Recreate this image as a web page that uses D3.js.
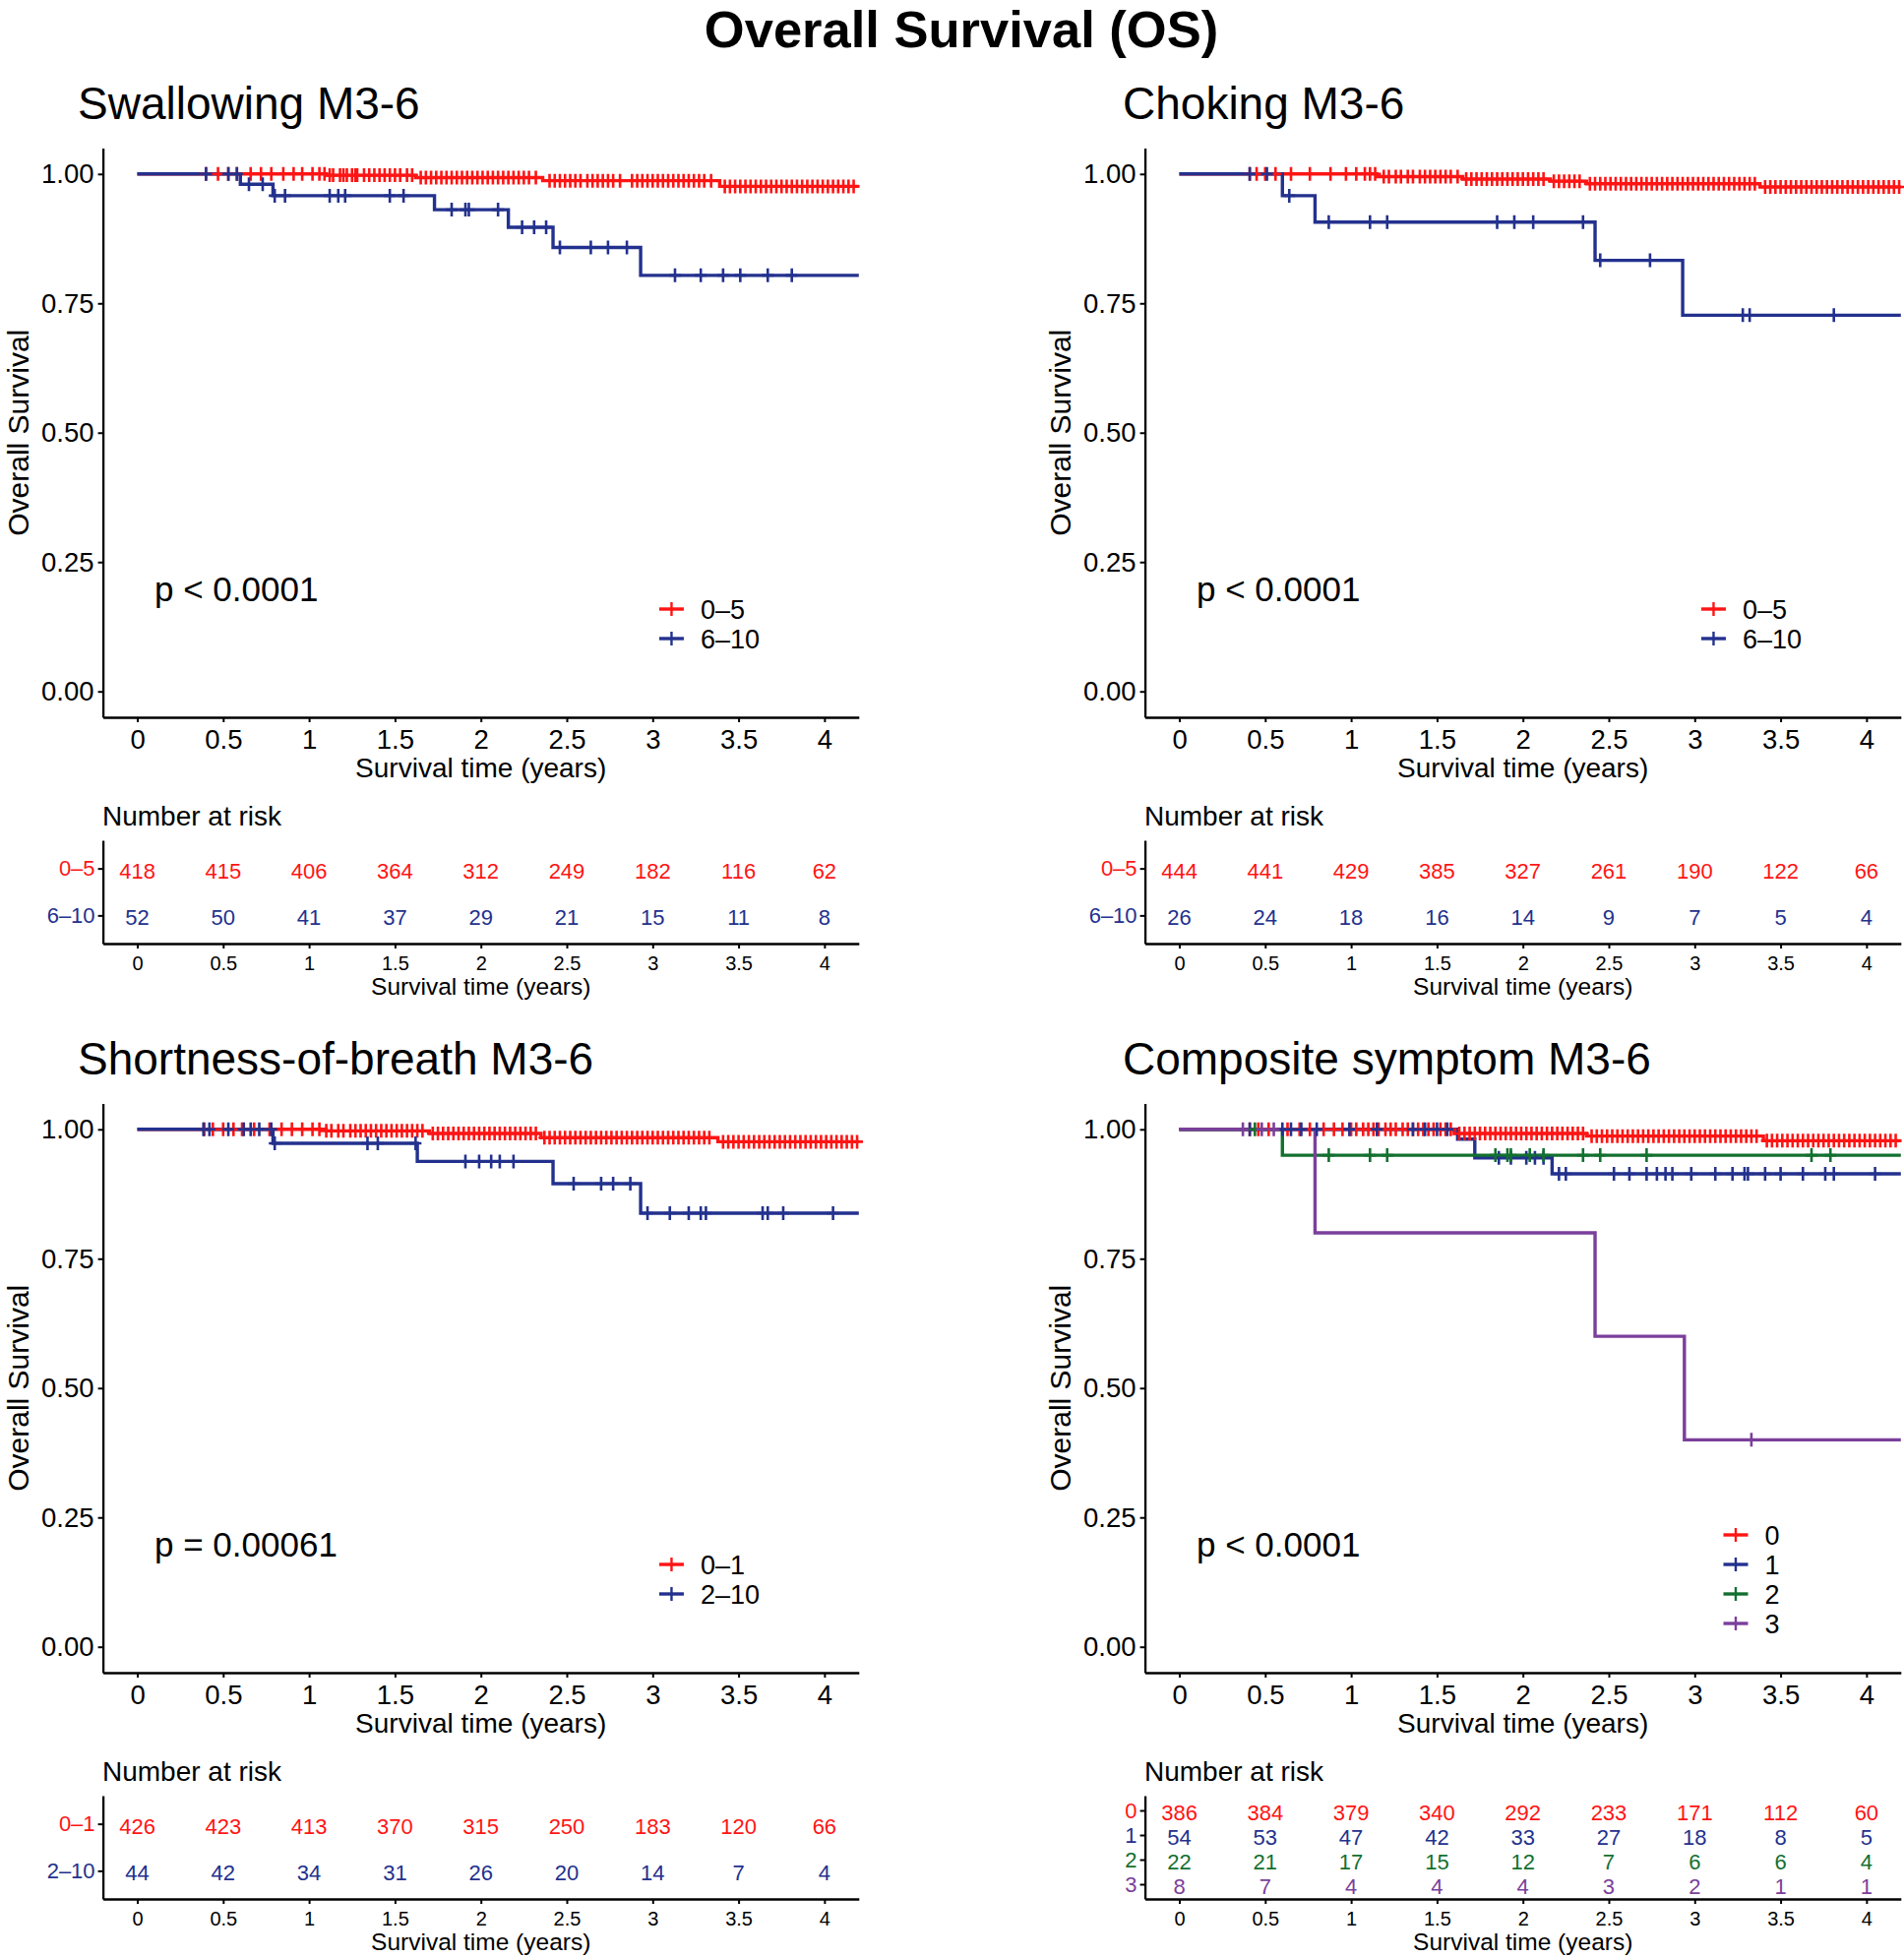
<!DOCTYPE html>
<html><head><meta charset="utf-8">
<script src="https://cdn.jsdelivr.net/npm/d3@7"></script>
<style>
body{margin:0;background:#fff;}
svg{display:block;font-family:"Liberation Sans",Arial,Helvetica,sans-serif;}
</style></head><body>
<svg id="chart" width="1935" height="1990"></svg>
<script>
// ---------- data ----------
const timeTicks = [0, 0.5, 1, 1.5, 2, 2.5, 3, 3.5, 4];
const survTicks = [0, 0.25, 0.5, 0.75, 1];
const panelTitles = ["Swallowing M3-6", "Choking M3-6", "Shortness-of-breath M3-6", "Composite symptom M3-6"];
const pValues = ["p < 0.0001", "p < 0.0001", "p = 0.00061", "p < 0.0001"];

// Swallowing
const swallowRedSteps = [[0,1],[1.10,0.9975],[1.62,0.993],[2.36,0.987],[3.39,0.976]];
const swallowRedCensor = [0.40,0.47,0.53,0.58,0.66,0.72,0.78,0.85,0.91,0.96,1.02,1.06,1.09,1.12,1.14,1.18,1.20,1.22,1.25,1.27,1.28,1.32,1.35,1.38,1.41,1.44,1.47,1.50,1.53,1.57,1.60,1.65,1.68,1.71,1.74,1.77,1.80,1.83,1.86,1.89,1.92,1.95,1.98,2.01,2.04,2.07,2.10,2.13,2.16,2.19,2.22,2.25,2.28,2.32,2.40,2.43,2.46,2.49,2.52,2.55,2.58,2.62,2.65,2.68,2.71,2.74,2.77,2.81,2.88,2.91,2.94,2.97,3.00,3.03,3.06,3.09,3.12,3.15,3.18,3.21,3.24,3.27,3.30,3.34,3.42,3.45,3.48,3.51,3.54,3.57,3.60,3.63,3.66,3.69,3.72,3.75,3.78,3.81,3.84,3.87,3.90,3.93,3.96,3.99,4.02,4.05,4.08,4.11,4.14,4.17];
const swallowBlueSteps = [[0,1],[0.60,0.980],[0.79,0.958],[1.73,0.931],[2.16,0.897],[2.42,0.858],[2.93,0.804]];
const swallowBlueCensor = [0.40,0.53,0.58,0.65,0.73,0.80,0.86,1.12,1.17,1.21,1.47,1.55,1.83,1.91,1.93,2.10,2.24,2.31,2.38,2.46,2.64,2.74,2.85,3.13,3.28,3.41,3.51,3.67,3.81];
const swallowRisk0 = [418,415,406,364,312,249,182,116,62];
const swallowRisk1 = [52,50,41,37,29,21,15,11,8];

// Choking
const chokeRedSteps = [[0,1],[1.15,0.995],[1.65,0.990],[2.16,0.986],[2.37,0.981],[3.38,0.975]];
const chokeRedCensor = [0.41,0.45,0.50,0.56,0.65,0.76,0.88,0.97,1.03,1.08,1.11,1.14,1.19,1.22,1.26,1.29,1.33,1.36,1.40,1.43,1.46,1.49,1.52,1.55,1.58,1.62,1.67,1.70,1.73,1.76,1.79,1.82,1.85,1.88,1.91,1.94,1.97,2.00,2.03,2.06,2.09,2.12,2.18,2.21,2.24,2.27,2.30,2.33,2.39,2.42,2.45,2.48,2.51,2.54,2.57,2.60,2.63,2.66,2.69,2.72,2.75,2.78,2.81,2.84,2.87,2.90,2.93,2.96,2.99,3.02,3.05,3.08,3.11,3.14,3.17,3.20,3.23,3.26,3.29,3.32,3.35,3.41,3.44,3.47,3.50,3.53,3.56,3.59,3.62,3.65,3.68,3.71,3.74,3.77,3.80,3.83,3.86,3.89,3.92,3.95,3.98,4.01,4.04,4.07,4.10,4.13,4.16,4.19];
const chokeBlueSteps = [[0,1],[0.60,0.958],[0.79,0.907],[2.42,0.833],[2.93,0.727]];
const chokeBlueCensor = [0.41,0.51,0.64,0.87,1.11,1.21,1.85,1.95,2.06,2.35,2.45,2.74,3.28,3.32,3.81];
const chokeRisk0 = [444,441,429,385,327,261,190,122,66];
const chokeRisk1 = [26,24,18,16,14,9,7,5,4];

// Shortness of breath
const breathRedSteps = [[0,1],[1.10,0.997],[1.70,0.992],[2.35,0.984],[3.38,0.976]];
const breathRedCensor = [0.39,0.44,0.50,0.56,0.61,0.68,0.77,0.84,0.90,0.96,1.02,1.06,1.10,1.13,1.17,1.20,1.24,1.27,1.30,1.33,1.36,1.39,1.42,1.45,1.48,1.51,1.54,1.57,1.60,1.63,1.66,1.72,1.75,1.78,1.81,1.84,1.87,1.90,1.93,1.96,1.99,2.02,2.05,2.08,2.11,2.14,2.17,2.20,2.23,2.26,2.29,2.32,2.37,2.40,2.43,2.46,2.49,2.52,2.55,2.58,2.61,2.64,2.67,2.70,2.73,2.76,2.79,2.82,2.85,2.88,2.91,2.94,2.97,3.00,3.03,3.06,3.09,3.12,3.15,3.18,3.21,3.24,3.27,3.30,3.33,3.41,3.44,3.47,3.50,3.53,3.56,3.59,3.62,3.65,3.68,3.71,3.74,3.77,3.80,3.83,3.86,3.89,3.92,3.95,3.98,4.01,4.04,4.07,4.10,4.13,4.16,4.19];
const breathBlueSteps = [[0,1],[0.79,0.973],[1.63,0.938],[2.42,0.895],[2.93,0.838]];
const breathBlueCensor = [0.385,0.42,0.53,0.62,0.66,0.71,0.78,0.80,1.34,1.40,1.62,1.91,1.99,2.06,2.11,2.19,2.54,2.70,2.77,2.87,2.97,3.10,3.21,3.28,3.31,3.64,3.67,3.76,4.05];
const breathRisk0 = [426,423,413,370,315,250,183,120,66];
const breathRisk1 = [44,42,34,31,26,20,14,7,4];

// Composite symptom
const compRedSteps = [[0,1],[1.60,0.992],[2.37,0.987],[3.40,0.978]];
const compRedCensor = [0.41,0.46,0.52,0.63,0.70,0.76,0.84,0.90,0.95,1.00,1.03,1.07,1.10,1.13,1.16,1.20,1.23,1.26,1.30,1.33,1.36,1.39,1.42,1.45,1.48,1.52,1.55,1.58,1.63,1.66,1.69,1.72,1.75,1.78,1.81,1.84,1.87,1.90,1.93,1.96,1.99,2.02,2.05,2.08,2.11,2.14,2.17,2.20,2.23,2.26,2.29,2.32,2.35,2.40,2.43,2.46,2.49,2.52,2.55,2.58,2.61,2.64,2.67,2.70,2.73,2.76,2.79,2.82,2.85,2.88,2.91,2.94,2.97,3.00,3.03,3.06,3.09,3.12,3.15,3.18,3.21,3.24,3.27,3.30,3.33,3.36,3.42,3.45,3.48,3.51,3.54,3.57,3.60,3.63,3.66,3.69,3.72,3.75,3.78,3.81,3.84,3.87,3.90,3.93,3.96,3.99,4.02,4.05,4.08,4.11,4.14,4.17];
const compBlueSteps = [[0,1],[1.62,0.981],[1.72,0.945],[2.17,0.914]];
const compBlueCensor = [0.41,0.60,0.65,0.71,0.80,0.99,1.15,1.36,1.43,1.50,1.56,1.86,1.93,2.02,2.07,2.12,2.21,2.25,2.53,2.62,2.72,2.78,2.83,2.87,2.98,3.12,3.22,3.29,3.31,3.41,3.50,3.63,3.76,3.81,4.05];
const compGreenSteps = [[0,1],[0.60,0.950]];
const compGreenCensor = [0.44,0.87,1.11,1.21,1.84,1.91,1.93,2.04,2.12,2.35,2.45,2.72,3.68,3.79];
const compPurpleSteps = [[0,1],[0.79,0.80],[2.42,0.60],[2.94,0.40]];
const compPurpleCensor = [0.37,0.48,0.55,3.33];
const compRisk0 = [386,384,379,340,292,233,171,112,60];
const compRisk1 = [54,53,47,42,33,27,18,8,5];
const compRisk2 = [22,21,17,15,12,7,6,6,4];
const compRisk3 = [8,7,4,4,4,3,2,1,1];

// ---------- styles ----------
const RED = "#FF1414", BLUE = "#23318E", GREEN = "#137030", PURPLE = "#7B3F9B";

const panels = [
  {title: panelTitles[0], col: 0, row: 0, pval: pValues[0], strata: [
    {label: "0–5", color: RED, steps: swallowRedSteps, censor: swallowRedCensor, risk: swallowRisk0},
    {label: "6–10", color: BLUE, steps: swallowBlueSteps, censor: swallowBlueCensor, risk: swallowRisk1}]},
  {title: panelTitles[1], col: 1, row: 0, pval: pValues[1], strata: [
    {label: "0–5", color: RED, steps: chokeRedSteps, censor: chokeRedCensor, risk: chokeRisk0},
    {label: "6–10", color: BLUE, steps: chokeBlueSteps, censor: chokeBlueCensor, risk: chokeRisk1}]},
  {title: panelTitles[2], col: 0, row: 1, pval: pValues[2], strata: [
    {label: "0–1", color: RED, steps: breathRedSteps, censor: breathRedCensor, risk: breathRisk0},
    {label: "2–10", color: BLUE, steps: breathBlueSteps, censor: breathBlueCensor, risk: breathRisk1}]},
  {title: panelTitles[3], col: 1, row: 1, pval: pValues[3], strata: [
    {label: "0", color: RED, steps: compRedSteps, censor: compRedCensor, risk: compRisk0},
    {label: "1", color: BLUE, steps: compBlueSteps, censor: compBlueCensor, risk: compRisk1},
    {label: "2", color: GREEN, steps: compGreenSteps, censor: compGreenCensor, risk: compRisk2},
    {label: "3", color: PURPLE, steps: compPurpleSteps, censor: compPurpleCensor, risk: compRisk3}]}
];

const svg = d3.select("#chart");
svg.append("rect").attr("width", 1935).attr("height", 1990).attr("fill", "#fff");
svg.append("text").attr("x", 977).attr("y", 48).attr("text-anchor", "middle")
  .attr("font-size", 52.5).attr("font-weight", "bold").text("Overall Survival (OS)");

const L = {x0: 104.6, x1: 872.8, yTop: 150.5, yBot: 729, dx: 1059, dy: 971};

function styleAxis(sel, fs) {
  sel.attr("font-family", null).attr("font-size", null);
  sel.select(".domain").attr("stroke", "#000").attr("stroke-width", 2.3);
  sel.selectAll(".tick line").attr("stroke", "#000").attr("stroke-width", 2);
  sel.selectAll(".tick text").attr("font-size", fs).attr("fill", "#000");
}

panels.forEach(p => {
  const ox = p.col * L.dx, oy = p.row * L.dy;
  const n = p.strata.length;
  const x = d3.scaleLinear().domain([-0.2, 4.2]).range([L.x0 + ox, L.x1 + ox]);
  const y = d3.scaleLinear().domain([-0.05, 1.05]).range([L.yBot + oy, L.yTop + oy]);
  const g = svg.append("g");

  g.append("text").attr("x", 79 + ox + p.col * 3).attr("y", 121 + oy).attr("font-size", 46).text(p.title);
  g.append("text").attr("transform", `translate(${18 + ox},${y(0.5)}) rotate(-90)`)
    .attr("text-anchor", "middle").attr("dy", "0.36em").attr("font-size", 30).text("Overall Survival");

  const ya = g.append("g").attr("transform", `translate(${L.x0 + ox},0)`)
    .call(d3.axisLeft(y).tickValues(survTicks).tickFormat(d3.format(".2f")).tickSize(5).tickSizeOuter(0).tickPadding(4));
  const xa = g.append("g").attr("transform", `translate(0,${L.yBot + oy})`)
    .call(d3.axisBottom(x).tickValues(timeTicks).tickFormat(d => String(d)).tickSize(5).tickSizeOuter(0).tickPadding(7));
  styleAxis(ya, 27.5); styleAxis(xa, 27.5);
  g.append("text").attr("x", x(2)).attr("y", 790 + oy).attr("text-anchor", "middle").attr("font-size", 28).text("Survival time (years)");

  const line = d3.line().x(d => x(d[0])).y(d => y(d[1])).curve(d3.curveStepAfter);
  p.strata.forEach(s => {
    const pts = s.steps.concat([[4.2, s.steps[s.steps.length - 1][1]]]);
    g.append("path").attr("d", line(pts)).attr("fill", "none").attr("stroke", s.color).attr("stroke-width", 3.4);
  });
  p.strata.forEach(s => {
    const survAt = t => { let v = 1; s.steps.forEach(d => { if (d[0] <= t) v = d[1]; }); return v; };
    const d = s.censor.map(t => { const cx = x(t), cy = y(survAt(t)); return `M${cx - 6},${cy}h12M${cx},${cy - 7}v14`; }).join("");
    g.append("path").attr("d", d).attr("stroke", s.color).attr("stroke-width", 2.6).attr("fill", "none");
  });

  g.append("text").attr("x", 157 + ox).attr("y", 611 + oy).attr("font-size", 35).text(p.pval);

  // legend
  const lg = g.append("g");
  p.strata.forEach((s, i) => {
    const cy = 634 + oy + (i - (n - 1) / 2) * 30;
    lg.append("line").attr("x1", 0).attr("x2", 25).attr("y1", cy).attr("y2", cy).attr("stroke", s.color).attr("stroke-width", 3.4);
    lg.append("path").attr("d", `M12.5,${cy - 7}v14`).attr("stroke", s.color).attr("stroke-width", 2.4);
    lg.append("text").attr("x", 42).attr("y", cy).attr("dy", "0.36em").attr("font-size", 27).text(s.label);
  });
  const bb = lg.node().getBBox();
  lg.attr("transform", `translate(${721 + ox - (bb.x + bb.width / 2)},0)`);

  // risk table
  const tTop = 854 + oy, tBot = 959 + oy;
  const yr = d3.scaleLinear().domain([0.4, n + 0.6]).range([tBot, tTop]);
  g.append("text").attr("x", 104 + ox).attr("y", 839 + oy).attr("font-size", 28).text("Number at risk");
  const tya = g.append("g").attr("transform", `translate(${L.x0 + ox},0)`)
    .call(d3.axisLeft(yr).tickValues(d3.range(1, n + 1)).tickFormat(v => p.strata[n - v].label).tickSize(5).tickSizeOuter(0).tickPadding(3));
  styleAxis(tya, 22);
  tya.selectAll(".tick text").attr("fill", v => p.strata[n - v].color);
  const txa = g.append("g").attr("transform", `translate(0,${tBot})`)
    .call(d3.axisBottom(x).tickValues(timeTicks).tickFormat(d => String(d)).tickSize(5).tickSizeOuter(0).tickPadding(8));
  styleAxis(txa, 20);
  g.append("text").attr("x", x(2)).attr("y", 1011 + oy).attr("text-anchor", "middle").attr("font-size", 24.5).text("Survival time (years)");
  p.strata.forEach((s, i) => {
    g.append("g").selectAll("text").data(s.risk).join("text")
      .attr("x", (d, j) => x(timeTicks[j])).attr("y", yr(n - i)).attr("dy", "0.45em")
      .attr("text-anchor", "middle").attr("font-size", 22).attr("fill", s.color).text(d => d);
  });
});
</script>
</body></html>
